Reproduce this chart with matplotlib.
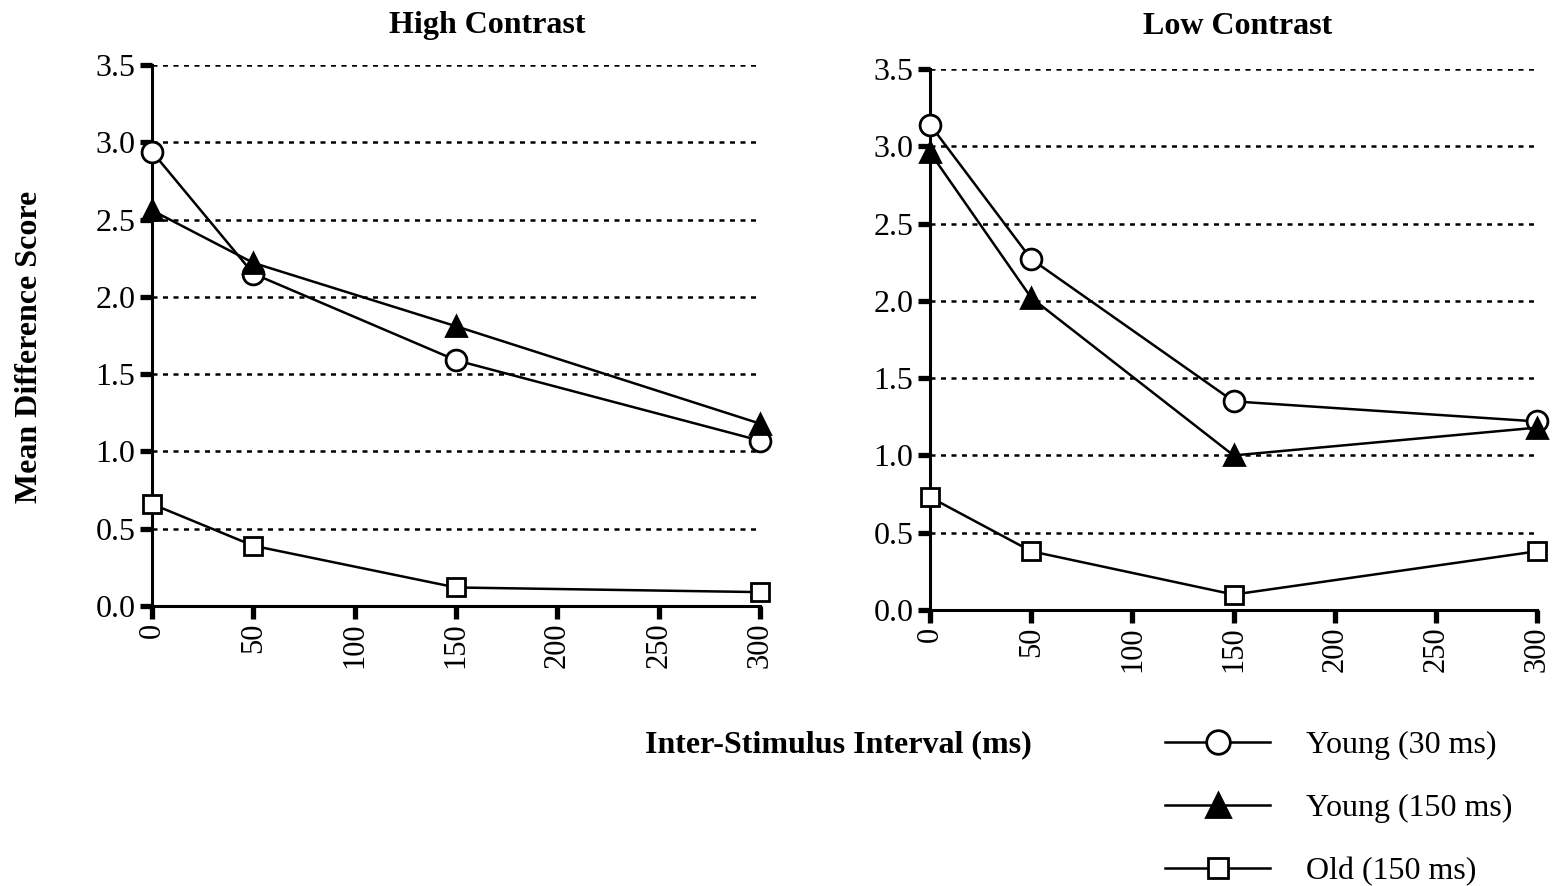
import matplotlib
matplotlib.use('Agg')
import matplotlib.pyplot as plt
from matplotlib.lines import Line2D

plt.rcParams['font.family'] = ['Liberation Serif', 'DejaVu Serif']

# data
isi = [0, 50, 150, 300]
high_young30 = [2.94, 2.15, 1.59, 1.07]
high_young150 = [2.56, 2.22, 1.81, 1.18]
high_old150 = [0.66, 0.39, 0.12, 0.09]
low_young30 = [3.14, 2.27, 1.35, 1.22]
low_young150 = [2.96, 2.02, 1.00, 1.18]
low_old150 = [0.73, 0.38, 0.10, 0.38]

series_labels = ['Young (30 ms)', 'Young (150 ms)', 'Old (150 ms)']
y_ticks = [0.0, 0.5, 1.0, 1.5, 2.0, 2.5, 3.0, 3.5]
x_ticks = [0, 50, 100, 150, 200, 250, 300]

styles = [
    dict(marker='o', markersize=15, markerfacecolor='white'),
    dict(marker='^', markersize=15, markerfacecolor='black'),
    dict(marker='s', markersize=13, markerfacecolor='white'),
]


def draw_panel(ax, data):
    for vals, st in zip(data, styles):
        ax.plot(isi, vals, color='black', lw=1.8, markeredgecolor='black',
                markeredgewidth=2, clip_on=False, zorder=5, **st)
    ax.set_xlim(0, 300)
    ax.set_ylim(0, 3.5)
    ax.set_xticks(x_ticks)
    ax.set_yticks(y_ticks)
    ax.set_yticklabels(['%.1f' % v for v in y_ticks])
    ax.set_xticklabels([str(v) for v in x_ticks], rotation=90)
    for v in y_ticks[1:]:
        ax.axhline(v, color='black', lw=1.8, linestyle=(0, (2.0, 2.2)), zorder=1)
    for s in ['top', 'right']:
        ax.spines[s].set_visible(False)
    for s in ['left', 'bottom']:
        ax.spines[s].set_linewidth(2.2)
    ax.tick_params(axis='both', direction='out', length=9, width=3.8, pad=3)
    ax.tick_params(axis='y', labelsize=23)
    ax.tick_params(axis='x', labelsize=22)


fig = plt.figure(figsize=(15.54, 8.86), dpi=100)
ax1 = fig.add_axes([0.0978, 0.316, 0.3913, 0.6106])
ax2 = fig.add_axes([0.5985, 0.3115, 0.3906, 0.6106])

draw_panel(ax1, [high_young30, high_young150, high_old150])
draw_panel(ax2, [low_young30, low_young150, low_old150])

fig.text(487 / 1554, 1 - 26 / 886, 'High Contrast', ha='center', va='center',
         fontsize=23, fontweight='bold')
fig.text(1238 / 1554, 1 - 26 / 886, 'Low Contrast', ha='center', va='center',
         fontsize=23, fontweight='bold')
fig.text(30 / 1554, 1 - 347 / 886, 'Mean Difference Score', rotation=90,
         ha='center', va='center', fontsize=23, fontweight='bold')
fig.text(838 / 1554, 1 - 745 / 886, 'Inter-Stimulus Interval (ms)',
         ha='center', va='center', fontsize=23, fontweight='bold')

handles = [Line2D([0], [0], color='black', lw=1.8, markeredgecolor='black',
                  markeredgewidth=2, **st) for st in styles]
for h in handles:
    h.set_markersize(h.get_markersize() + 2)
fig.legend(handles, series_labels, loc='upper left',
           bbox_to_anchor=(1165 / 1554, 1 - 731 / 886), frameon=False,
           fontsize=23, handlelength=3.3, handletextpad=1.1, labelspacing=1.05,
           borderaxespad=0, borderpad=0)

plt.savefig('out.png', dpi=100)
